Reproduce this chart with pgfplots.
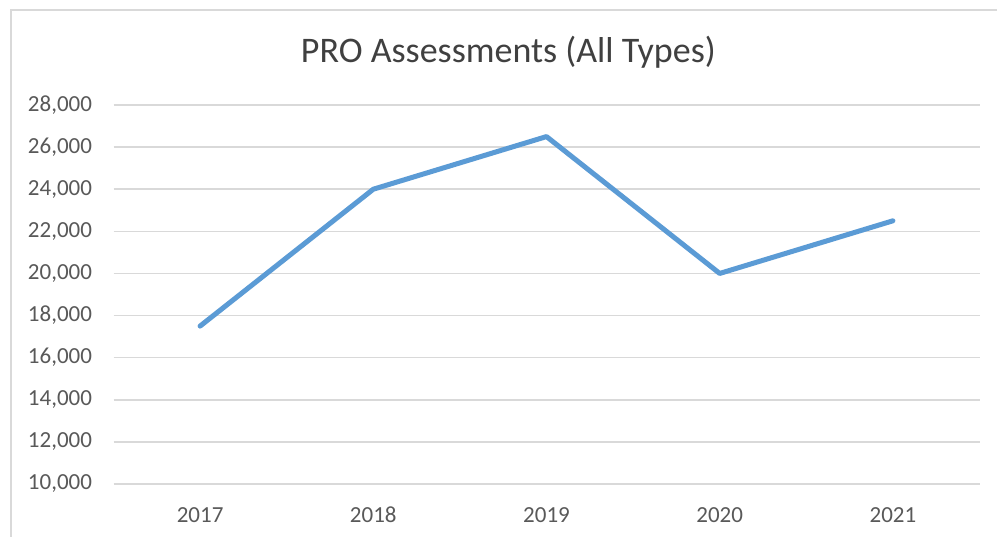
\documentclass[border=0pt]{standalone}
\usepackage{pgfplots}
\pgfplotsset{compat=1.18}
\usepackage{fontspec}
\setmainfont{Carlito}
\definecolor{gridgray}{RGB}{217,217,217}
\definecolor{txtgray}{RGB}{89,89,89}
\definecolor{titlegray}{RGB}{64,64,64}
\definecolor{lineblue}{RGB}{91,155,213}
\begin{document}
\begin{tikzpicture}
\useasboundingbox (0,0) rectangle (997bp,537bp);
\fill[white] (0,0) rectangle (997bp,537bp);
\draw[gridgray, line width=1.5bp] (11bp,-5bp) -- (11bp,527bp) -- (1005bp,527bp);
\begin{axis}[
  at={(113.5bp,53bp)}, anchor=south west,
  scale only axis, width=866bp, height=379bp,
  xmin=-0.5, xmax=4.5, ymin=10000, ymax=28000,
  xtick={0,1,2,3,4}, xticklabels={2017,2018,2019,2020,2021},
  ytick={10000,12000,...,28000},
  axis line style={draw=none},
  major tick length=0pt,
  ymajorgrids, grid style={gridgray, line width=1.5bp},
  tick label style={font=\fontsize{23bp}{27bp}\selectfont, text=txtgray},
  /pgf/number format/assume math mode=true,
  /pgf/number format/1000 sep={,},
  scaled y ticks=false,
  yticklabel style={xshift=-18bp},
  xticklabel style={anchor=base, yshift=-38bp},
  title={PRO Assessments (All Types)},
  title style={font=\fontsize{36bp}{42bp}\selectfont, text=titlegray, at={(0.456,1)}, anchor=base, yshift=37bp},
  clip=false,
]
\addplot[lineblue, line width=5bp, line join=round, line cap=round] coordinates {
  (0,17500) (1,24000) (2,26500) (3,20000) (4,22500)
};
\end{axis}
\end{tikzpicture}
\end{document}
